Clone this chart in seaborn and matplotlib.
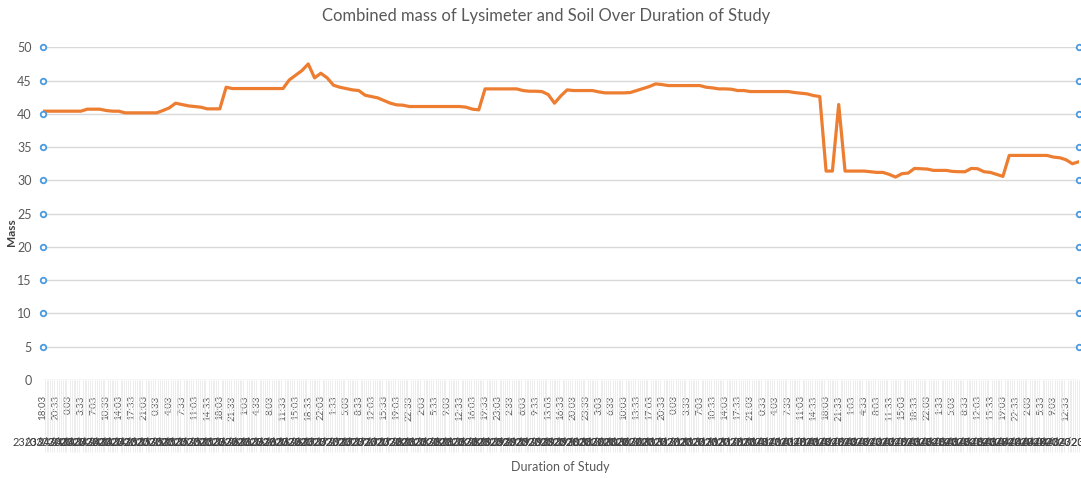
import numpy as np
import pandas as pd
import matplotlib
matplotlib.use('Agg')
import matplotlib.pyplot as plt
import seaborn as sns
from matplotlib.ticker import MultipleLocator

# time of day shown under every second reading
time_labels = [
    '18:03', '20:33', '0:03', '3:33', '7:03', '10:33', '14:03', '17:33', '21:03', '0:33',
    '4:03', '7:33', '11:03', '14:33', '18:03', '21:33', '1:03', '4:33', '8:03', '11:33',
    '15:03', '18:33', '22:03', '1:33', '5:03', '8:33', '12:03', '15:33', '19:03', '22:33',
    '2:03', '5:33', '9:03', '12:33', '16:03', '19:33', '23:03', '2:33', '6:03', '9:33',
    '13:03', '16:33', '20:03', '23:33', '3:03', '6:33', '10:03', '13:33', '17:03', '20:33',
    '0:03', '3:33', '7:03', '10:33', '14:03', '17:33', '21:03', '0:33', '4:03', '7:33',
    '11:03', '14:33', '18:03', '21:33', '1:03', '4:33', '8:03', '11:33', '15:03', '18:33',
    '22:03', '1:33', '5:03', '8:33', '12:03', '15:33', '19:03', '22:33', '2:03', '5:33',
    '9:03', '12:33',
]
start_date = '2023-03-23'

# combined mass readings
mass = [
    40.4, 40.4, 40.4, 40.4, 40.4, 40.4, 40.4, 40.7, 40.7, 40.7,
    40.5, 40.4, 40.4, 40.15, 40.15, 40.15, 40.15, 40.15, 40.15, 40.5,
    40.9, 41.6, 41.4, 41.2, 41.1, 41.0, 40.75, 40.75, 40.75, 44.0,
    43.8, 43.8, 43.8, 43.8, 43.8, 43.8, 43.8, 43.8, 43.8, 45.1,
    45.8, 46.5, 47.5, 45.4, 46.1, 45.4, 44.3, 44.0, 43.8, 43.6,
    43.5, 42.8, 42.6, 42.4, 42.0, 41.6, 41.35, 41.3, 41.1, 41.1,
    41.1, 41.1, 41.1, 41.1, 41.1, 41.1, 41.1, 41.0, 40.7, 40.6,
    43.75, 43.75, 43.75, 43.75, 43.75, 43.75, 43.5, 43.4, 43.4, 43.35,
    42.9, 41.6, 42.7, 43.6, 43.5, 43.5, 43.5, 43.5, 43.3, 43.15,
    43.15, 43.15, 43.15, 43.2, 43.5, 43.8, 44.1, 44.5, 44.4, 44.25,
    44.25, 44.25, 44.25, 44.25, 44.25, 44.0, 43.9, 43.75, 43.75, 43.7,
    43.5, 43.5, 43.35, 43.35, 43.35, 43.35, 43.35, 43.35, 43.35, 43.2,
    43.1, 43.0, 42.75, 42.6, 31.4, 31.4, 41.4, 31.4, 31.4, 31.4,
    31.4, 31.3, 31.2, 31.2, 30.9, 30.5, 31.0, 31.1, 31.8, 31.75,
    31.7, 31.5, 31.5, 31.5, 31.35, 31.3, 31.3, 31.8, 31.75, 31.3,
    31.2, 30.9, 30.6, 33.75, 33.75, 33.75, 33.75, 33.75, 33.75, 33.75,
    33.5, 33.4, 33.1, 32.5, 32.8,
]

# blue marker levels on both value axes
edge_levels = [5, 10, 15, 20, 25, 30, 35, 40, 45, 50]

sns.set_style('white')
plt.rcParams['font.family'] = ['Lato', 'DejaVu Sans']

W, H = 1081, 478
fig = plt.figure(figsize=(W / 100, H / 100), dpi=100)
ax = fig.add_axes([43 / W, 1 - 380 / H, (1078.7 - 43) / W, (380 - 47.3) / H])

df = pd.DataFrame({'step': np.arange(len(mass)), 'mass': mass})
sns.lineplot(data=df, x='step', y='mass', color='#ED7D31', linewidth=2.3,
             estimator=None, ax=ax, zorder=3)

first, last = df['step'].min(), df['step'].max()
edges = pd.DataFrame({'step': [first] * len(edge_levels) + [last] * len(edge_levels),
                      'level': edge_levels * 2})
sns.scatterplot(data=edges, x='step', y='level', ax=ax, s=16, marker='o',
                facecolor='white', edgecolor='#4A9BE0', linewidth=1.3,
                clip_on=False, zorder=4)

ax.set_xlim(first, last)
ax.set_ylim(0, 50)
ax.set_yticks(range(0, 51, 5))
ax.yaxis.grid(True, color='#D9D9D9', linewidth=1)
ax.xaxis.grid(False)
for s in ax.spines.values():
    s.set_visible(False)

tick_pos = np.arange(0, 2 * len(time_labels), 2)
ax.set_xticks(tick_pos)
ax.set_xticklabels(time_labels, rotation=90, fontsize=7, color='#595959')
ax.tick_params(axis='x', which='major', bottom=True, length=0, pad=11)
ax.xaxis.set_minor_locator(MultipleLocator(2 / 7))
ax.tick_params(axis='x', which='minor', bottom=True, length=52, width=0.5,
               color='#E6E6E6', direction='out')
ax.tick_params(axis='y', length=0, pad=8, labelsize=9, labelcolor='#595959')
ax.set_xlabel('')
ax.set_ylabel('')

# second row of the category axis: date of each reading
day = pd.Timestamp(start_date)
prev = None
for pos, lab in zip(tick_pos, time_labels):
    h, m = lab.split(':')
    mins = int(h) * 60 + int(m)
    if prev is not None and mins < prev:
        day = day + pd.Timedelta(days=1)
    prev = mins
    ax.text(pos, -0.188, day.strftime('%d/%m/%Y'), transform=ax.get_xaxis_transform(),
            ha='center', va='center', fontsize=8, color='#404040', clip_on=False)

fig.text(546 / W, 1 - 16 / H, 'Combined mass of Lysimeter and Soil Over Duration of Study',
         ha='center', va='center', fontsize=12, color='#595959')
fig.text(560 / W, 1 - 467 / H, 'Duration of Study', ha='center', va='center',
         fontsize=9, color='#595959')
fig.text(12 / W, 1 - 232 / H, 'Mass', ha='center', va='center', rotation=90,
         fontsize=8.5, color='#404040', fontweight='bold')

fig.savefig('out.png', dpi=100)
